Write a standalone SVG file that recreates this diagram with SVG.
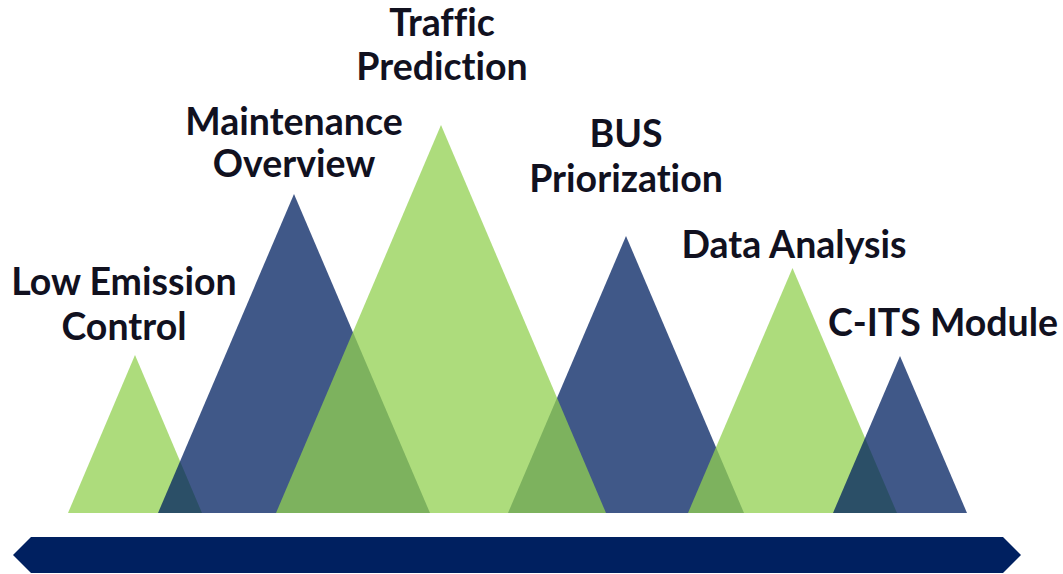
<svg xmlns="http://www.w3.org/2000/svg" width="1063" height="574" viewBox="0 0 1063 574">
  <style>
    .g { fill: #92D050; fill-opacity: 0.75; }
    .b { fill: #002060; fill-opacity: 0.75; }
    .lbl { font-family: Lato, "Liberation Sans", sans-serif; font-weight: 700; font-size: 37.5px; fill: #11111f; text-anchor: middle; font-variant-ligatures: none; }
  </style>
  <rect width="1063" height="574" fill="#ffffff"/>
  <g id="peaks">
    <polygon id="peak-low-emission" class="g" points="68,513 135,355 202,513"/>
    <polygon id="peak-maintenance" class="b" points="158,513 294,194 430,513"/>
    <polygon id="peak-bus" class="b" points="508,513 626,236 744,513"/>
    <polygon id="peak-traffic" class="g" points="276,513 441,125 606,513"/>
    <polygon id="peak-data" class="g" points="688,513 792.5,268 897,513"/>
    <polygon id="peak-cits" class="b" points="833,513 900,356 967,513"/>
  </g>
  <g id="timeline">
    <polygon fill="#002060" points="13,555 31,537 1003,537 1021,555 1003,573 31,573"/>
  </g>
  <g id="labels">
    <g id="label-low-emission"><text class="lbl" x="124" y="295">Low Emission</text><text class="lbl" x="124" y="340">Control</text></g>
    <g id="label-maintenance"><text class="lbl" x="294" y="135">Maintenance</text><text class="lbl" x="294" y="177">Overview</text></g>
    <g id="label-traffic"><text class="lbl" x="442" y="36">Traffic</text><text class="lbl" x="442" y="80">Prediction</text></g>
    <g id="label-bus"><text class="lbl" x="626" y="147">BUS</text><text class="lbl" x="626" y="192">Priorization</text></g>
    <g id="label-data"><text class="lbl" x="794" y="258">Data Analysis</text></g>
    <g id="label-cits"><text class="lbl" x="943" y="336">C-ITS Module</text></g>
  </g>
</svg>
